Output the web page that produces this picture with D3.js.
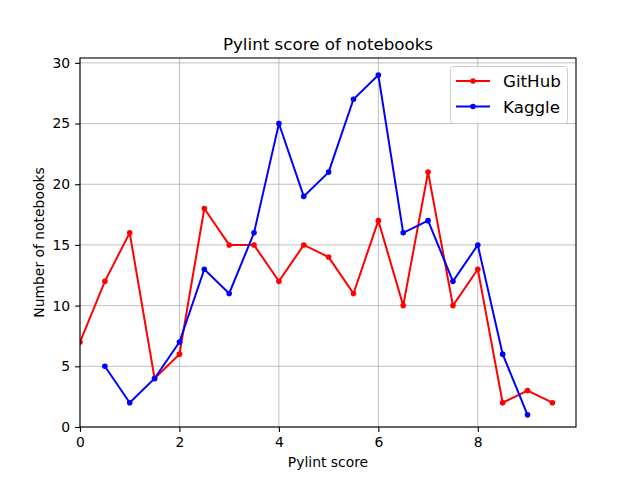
<!DOCTYPE html>
<html><head><meta charset="utf-8">
<script src="https://cdn.jsdelivr.net/npm/d3@7"></script>
<style>body{margin:0;background:#fff}svg{font-family:"DejaVu Sans",sans-serif}</style>
</head><body>
<script>
const githubX = [0,0.5,1,1.5,2,2.5,3,3.5,4,4.5,5,5.5,6,6.5,7,7.5,8,8.5,9,9.5];
const githubY = [7,12,16,4,6,18,15,15,12,15,14,11,17,10,21,10,13,2,3,2];
const kaggleX = [0.5,1,1.5,2,2.5,3,3.5,4,4.5,5,5.5,6,6.5,7,7.5,8,8.5,9];
const kaggleY = [5,2,4,7,13,11,16,25,19,21,27,29,16,17,12,15,6,1];
const xTicks = [0,2,4,6,8];
const yTicks = [0,5,10,15,20,25,30];
const seriesNames = ["GitHub","Kaggle"];
const seriesColors = ["#ff0000","#0000ff"];

const W=640,H=480, L=80,R=576,T=58,B=427;
const svg=d3.select("body").append("svg").attr("width",W).attr("height",H);
const x=d3.scaleLinear().domain([0,9.975]).range([L,R]);
const y=d3.scaleLinear().domain([0,30.4]).range([B,T]);

// grid
const g=svg.append("g");
xTicks.forEach(t=>g.append("line").attr("x1",x(t)).attr("x2",x(t)).attr("y1",T).attr("y2",B).attr("stroke","#b0b0b0").attr("stroke-width",0.8));
yTicks.forEach(t=>g.append("line").attr("x1",L).attr("x2",R).attr("y1",y(t)).attr("y2",y(t)).attr("stroke","#b0b0b0").attr("stroke-width",0.8));

const series=[{xs:githubX,ys:githubY},{xs:kaggleX,ys:kaggleY}];
const line=d3.line().x(d=>x(d[0])).y(d=>y(d[1]));
const clip=svg.append("clipPath").attr("id","c").append("rect").attr("x",L).attr("y",T).attr("width",R-L).attr("height",B-T);
series.forEach((s,i)=>{
  const pts=s.xs.map((v,j)=>[v,s.ys[j]]);
  const gg=svg.append("g").attr("clip-path","url(#c)");
  gg.append("path").attr("d",line(pts)).attr("fill","none").attr("stroke",seriesColors[i]).attr("stroke-width",2);
  gg.selectAll("circle").data(pts).enter().append("circle").attr("cx",d=>x(d[0])).attr("cy",d=>y(d[1])).attr("r",2.8).attr("fill",seriesColors[i]);
});

// axes
const xa=svg.append("g").attr("transform",`translate(0,${B})`).call(d3.axisBottom(x).tickValues(xTicks).tickSize(4.9).tickPadding(4.9));
const ya=svg.append("g").attr("transform",`translate(${L},0)`).call(d3.axisLeft(y).tickValues(yTicks).tickSize(4.9).tickPadding(4.9));
[xa,ya].forEach(a=>{a.select(".domain").remove();a.selectAll("text").attr("font-size","13.9px").attr("fill","#000").attr("font-family","DejaVu Sans");a.selectAll("line").attr("stroke","#000").attr("stroke-width",1.1);});
svg.append("rect").attr("x",L).attr("y",T).attr("width",R-L).attr("height",B-T).attr("fill","none").attr("stroke","#000").attr("stroke-width",1.1);

svg.append("text").attr("x",(L+R)/2).attr("y",T-8).attr("text-anchor","middle").attr("font-size","16.7px").text("Pylint score of notebooks");
svg.append("text").attr("x",(L+R)/2).attr("y",467).attr("text-anchor","middle").attr("font-size","13.9px").text("Pylint score");
svg.append("text").attr("transform",`translate(44,${(T+B)/2}) rotate(-90)`).attr("text-anchor","middle").attr("font-size","13.9px").text("Number of notebooks");

// legend
const lg=svg.append("g");
lg.append("rect").attr("x",450.5).attr("y",66.5).attr("width",117).attr("height",57).attr("rx",3).attr("fill","#fff").attr("fill-opacity",0.8).attr("stroke","#cccccc").attr("stroke-width",1);
seriesNames.forEach((n,i)=>{
  const yy=81+i*25.5;
  lg.append("line").attr("x1",456).attr("x2",490).attr("y1",yy).attr("y2",yy).attr("stroke",seriesColors[i]).attr("stroke-width",2);
  lg.append("circle").attr("cx",473).attr("cy",yy).attr("r",2.8).attr("fill",seriesColors[i]);
  lg.append("text").attr("x",503).attr("y",yy+6).attr("font-size","16.7px").text(n);
});
</script>
</body></html>
